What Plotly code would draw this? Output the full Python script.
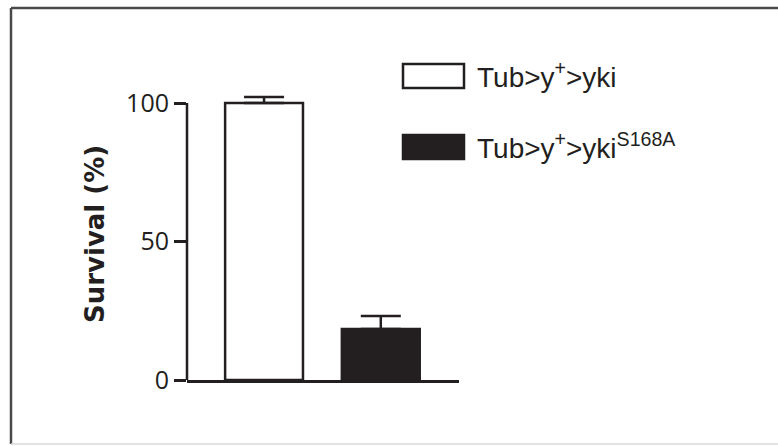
import plotly.graph_objects as go

# ---- data ----
categories = ["Tub>y<sup>+</sup>>yki", "Tub>y<sup>+</sup>>yki<sup>S168A</sup>"]
survival = [100.0, 18.4]
err_plus = [2.2, 4.7]
bar_colors = ["#ffffff", "#231f20"]
y_ticks = [0, 50, 100]
y_ticklabels = ["0", "50", "100"]

INK = "#231f20"
W, H = 778, 446
Y_MAX = 104
L, R, B = 187, 319, 66
pw = W - L - R
ph = 277 * Y_MAX / 100.0
T = H - B - ph

def px_x(x):
    return (x - L) / pw

def px_y(y):
    return (H - B - y) / ph

fig = go.Figure()
for i, (cat, v, e, c) in enumerate(zip(categories, survival, err_plus, bar_colors)):
    fig.add_trace(go.Bar(
        x=[i], y=[v], width=0.667,
        marker=dict(color=c, line=dict(color=INK, width=2.5)),
        error_y=dict(type="data", array=[e], arrayminus=[0], symmetric=False,
                     color=INK, thickness=2.5, width=20),
        showlegend=False, name=cat,
    ))

shapes = []
# y-axis line from 0 to the top tick
shapes.append(dict(type="line", xref="paper", yref="y", x0=0, x1=0,
                   y0=y_ticks[0], y1=y_ticks[-1], line=dict(color=INK, width=2.5)))
# frame
shapes.append(dict(type="line", xref="paper", yref="paper",
                   x0=px_x(11), x1=px_x(790), y0=px_y(8), y1=px_y(8),
                   line=dict(color="#4a4a4a", width=2.5)))
shapes.append(dict(type="line", xref="paper", yref="paper",
                   x0=px_x(11), x1=px_x(11), y0=px_y(8), y1=px_y(444),
                   line=dict(color="#4a4a4a", width=2.5)))
shapes.append(dict(type="line", xref="paper", yref="paper",
                   x0=px_x(11), x1=px_x(790), y0=px_y(444), y1=px_y(444),
                   line=dict(color="#d8d8d8", width=1.5)))

annotations = []
legend_rows = [(64, 88), (135, 159)]
for (y0, y1), cat, c in zip(legend_rows, categories, bar_colors):
    shapes.append(dict(type="rect", xref="paper", yref="paper",
                       x0=px_x(403), x1=px_x(464), y0=px_y(y1), y1=px_y(y0),
                       fillcolor=c, line=dict(color=INK, width=2.5)))
    annotations.append(dict(xref="paper", yref="paper", x=px_x(475), y=px_y((y0 + y1) / 2 - 1),
                            text=cat, showarrow=False, xanchor="left", yanchor="middle",
                            font=dict(family="Liberation Sans, Arial, sans-serif", size=28, color=INK)))

# y-axis title as rotated annotation
annotations.append(dict(xref="paper", yref="paper", x=px_x(95), y=px_y(234),
                        text="<b>Survival (%)</b>", textangle=-90, showarrow=False,
                        xanchor="center", yanchor="middle",
                        font=dict(family="DejaVu Sans, sans-serif", size=26, color=INK)))

fig.update_layout(
    width=W, height=H,
    margin=dict(l=L, r=R, t=T, b=B, pad=0),
    paper_bgcolor="white", plot_bgcolor="white",
    shapes=shapes, annotations=annotations,
    xaxis=dict(range=[-0.66, 1.67], showticklabels=False, ticks="", showgrid=False,
               zeroline=False, showline=True, linecolor=INK, linewidth=2.5, fixedrange=True),
    yaxis=dict(range=[0, Y_MAX], tickvals=y_ticks, ticktext=y_ticklabels,
               ticks="outside", ticklen=12, tickwidth=2.5, tickcolor=INK,
               showgrid=False, zeroline=False, showline=False, fixedrange=True,
               tickfont=dict(family="Open Sans, Noto Sans, sans-serif", size=25, color=INK)),
)

fig.write_html("out.html", config={"displayModeBar": False},
               post_script="document.body.style.margin='0';document.body.style.overflow='hidden';")
